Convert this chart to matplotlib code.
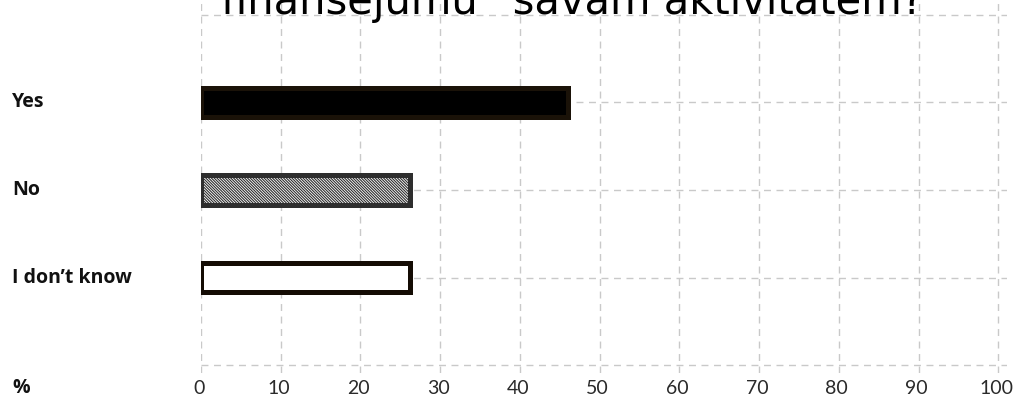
import numpy as np
import matplotlib
matplotlib.use("Agg")
import matplotlib.pyplot as plt

# data
categories = ["Yes", "No", "I don\u2019t know"]
values = [46.0, 26.2, 26.2]
x_ticks = [0, 10, 20, 30, 40, 50, 60, 70, 80, 90, 100]
title = "finans\u0113jumu\u201d sav\u0101m aktivit\u0101t\u0113m?"

plt.rcParams['hatch.linewidth'] = 0.8

fig = plt.figure(figsize=(10.15, 4.04), dpi=100)
W, H = 1015, 404
# axes: left 201px, right 1007px, top 0px, bottom 373px
ax = fig.add_axes([201 / W, 1 - 373 / H, (1007 - 201) / W, 373 / H])

ypos = np.arange(1, len(categories) + 1)
styles = [
    dict(color="black", edgecolor="#1a1208"),
    dict(color="white", edgecolor="#2e2e2e", hatch="\\" * 12),
    dict(color="white", edgecolor="#140c04"),
]
for y, v, st in zip(ypos, values, styles):
    ax.barh(y, v, height=0.34, linewidth=3.6, zorder=3, **st)

# dashed grid
grid_kw = dict(color="#c9c9c9", linewidth=1.0, linestyle=(0, (5, 4)), zorder=1)
for x in x_ticks:
    ax.axvline(x, **grid_kw)
for y in range(0, len(categories) + 2):
    ax.axhline(y, **grid_kw)

ax.set_xlim(0, 101.1)
ax.set_ylim(4 + 8 / 88, -15 / 88)
for s in ax.spines.values():
    s.set_visible(False)
ax.set_xticks([])
ax.set_yticks([])

# labels
lab_font = ["Open Sans", "DejaVu Sans"]
for y, c in zip(ypos, categories):
    yp = ax.transData.transform((0, y))[1] / H
    fig.text(12 / W, yp, c, ha="left", va="center", fontsize=14,
             fontweight="bold", family=lab_font, color="#111111")

fig.text(12 / W, 1 - 388 / H, "%", ha="left", va="center", fontsize=14,
         fontweight="bold", family=lab_font, color="#111111")
for x in x_ticks:
    xp = (ax.transData.transform((x, 0))[0] - 2) / W
    fig.text(xp, 1 - 388 / H, str(x), ha="center", va="center", fontsize=14,
             fontweight="normal", family=["Lato", "DejaVu Sans"], color="#2a2a2a")

fig.text(572 / W, 1 - 14 / H, title, ha="center", va="baseline", fontsize=30,
         family=["DejaVu Sans"], color="black")

fig.savefig("out.png", dpi=100)
